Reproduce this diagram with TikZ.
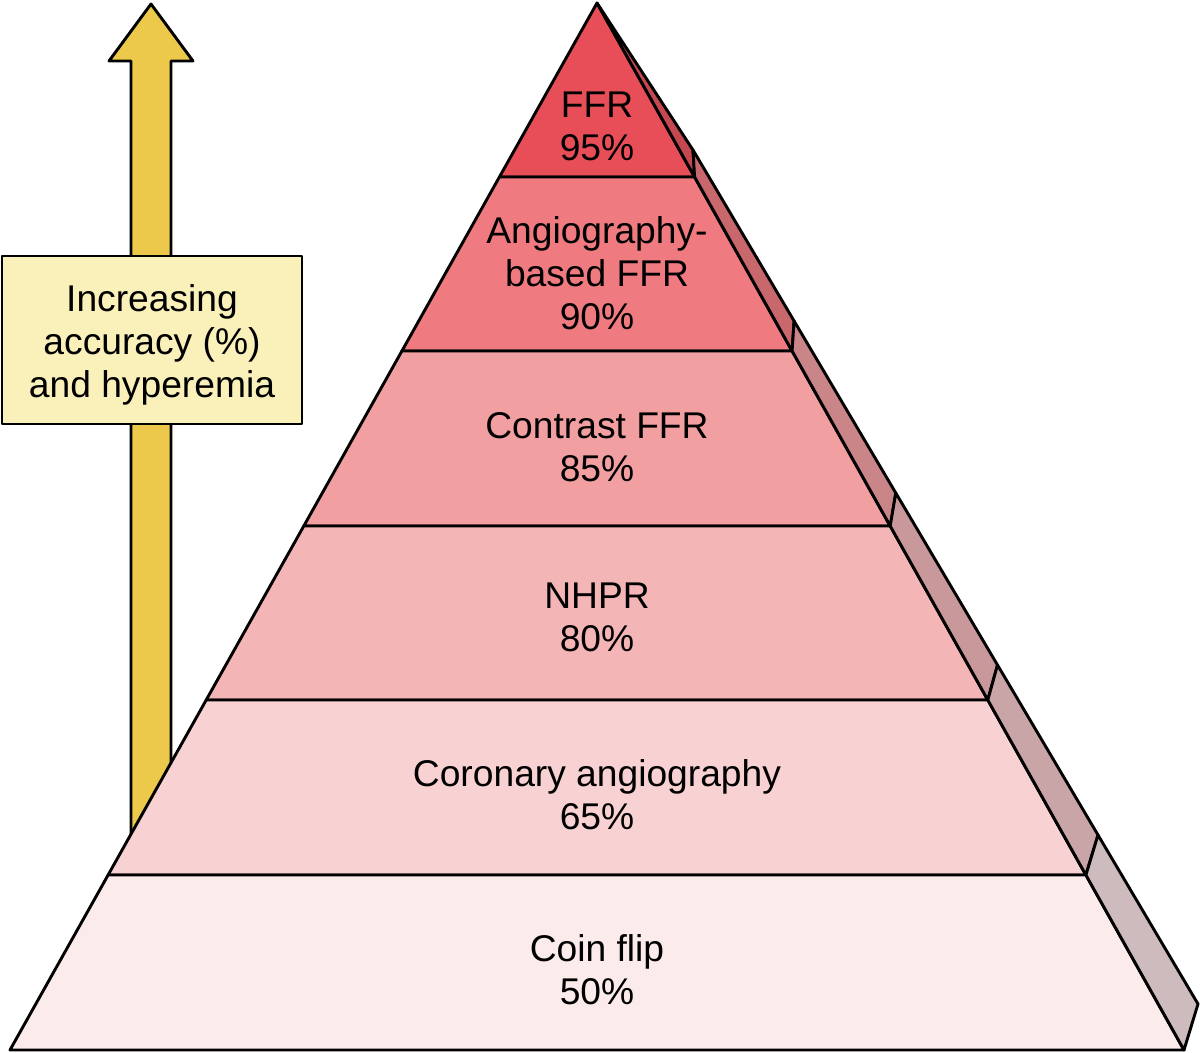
\documentclass[tikz,border=0pt]{standalone}
\usepackage{fontspec}
\setmainfont{Liberation Sans}
\usetikzlibrary{positioning,calc}

\definecolor{arrowyellow}{HTML}{ECC94A}
\definecolor{boxyellow}{HTML}{FAF0BA}
\definecolor{front1}{HTML}{E84E57}
\definecolor{front2}{HTML}{EF7B80}
\definecolor{front3}{HTML}{F19FA1}
\definecolor{front4}{HTML}{F4B5B6}
\definecolor{front5}{HTML}{F8D2D3}
\definecolor{front6}{HTML}{FBEBEB}
\definecolor{side1}{HTML}{C4484F}
\definecolor{side2}{HTML}{C8686D}
\definecolor{side3}{HTML}{CA8589}
\definecolor{side4}{HTML}{C9989B}
\definecolor{side5}{HTML}{C9A5A8}
\definecolor{side6}{HTML}{CDBBBE}

\begin{document}
\begin{tikzpicture}[x=0.5pt,y=-0.5pt,line width=1.45pt,line join=round,
		layertext/.style={align=center,font=\fontsize{18.6}{21.6}\selectfont}]
				\useasboundingbox (0,0) rectangle (1200,1053);
				% arrow, behind the pyramid
				\filldraw[fill=arrowyellow] (131,845) -- (131,61) -- (109,61) -- (151,4) -- (193,61) -- (171,61) -- (171,845) -- cycle;
				% front corners of the levels
				\coordinate (apex) at (597,3);
				\coordinate (l1) at (499.4,177);  \coordinate (r1) at (694.6,177);
				\coordinate (l2) at (401.9,351);  \coordinate (r2) at (792.1,351);
				\coordinate (l3) at (303.8,526);  \coordinate (r3) at (890.2,526);
				\coordinate (l4) at (206.2,700);  \coordinate (r4) at (987.8,700);
				\coordinate (l5) at (108.1,875);  \coordinate (r5) at (1085.9,875);
				\coordinate (l6) at (10,1050);    \coordinate (r6) at (1184,1050);
				% back edge of the side face
				\coordinate (t1) at (693,150);
				\coordinate (t2) at (794.1,321);
				\coordinate (t3) at (895.8,493);
				\coordinate (t4) at (997.5,665);
				\coordinate (t5) at (1098,835);
				\coordinate (t6) at (1198,1004);
				% front face
				\filldraw[fill=front1] (apex) -- (r1) -- (l1) -- cycle;
				\filldraw[fill=front2] (l1) -- (r1) -- (r2) -- (l2) -- cycle;
				\filldraw[fill=front3] (l2) -- (r2) -- (r3) -- (l3) -- cycle;
				\filldraw[fill=front4] (l3) -- (r3) -- (r4) -- (l4) -- cycle;
				\filldraw[fill=front5] (l4) -- (r4) -- (r5) -- (l5) -- cycle;
				\filldraw[fill=front6] (l5) -- (r5) -- (r6) -- (l6) -- cycle;
				% side face
				\filldraw[fill=side1] (apex) -- (r1) -- (t1) -- cycle;
				\filldraw[fill=side2] (r1) -- (r2) -- (t2) -- (t1) -- cycle;
				\filldraw[fill=side3] (r2) -- (r3) -- (t3) -- (t2) -- cycle;
				\filldraw[fill=side4] (r3) -- (r4) -- (t4) -- (t3) -- cycle;
				\filldraw[fill=side5] (r4) -- (r5) -- (t5) -- (t4) -- cycle;
				\filldraw[fill=side6] (r5) -- (r6) -- (t6) -- (t5) -- cycle;
				% labels
				\node[layertext] (ffr) at (597,126) {FFR\\95\%};
				\node[layertext] (angioffr) at (597,273) {Angiography-\\based FFR\\90\%};
				\node[layertext] (contrast) at (597,447) {Contrast FFR\\85\%};
				\node[layertext] (nhpr) at (597,617) {NHPR\\80\%};
				\node[layertext] (angio) at (597,795) {Coronary angiography\\65\%};
				\node[layertext] (coin) at (597,970) {Coin flip\\50\%};
				\node[draw, fill=boxyellow, minimum width=150pt, minimum height=84pt, layertext] (accuracy) at (152,340) {\rule{0pt}{18.5pt}Increasing\\accuracy (\%)\\and hyperemia};
			\end{tikzpicture}
\end{document}
